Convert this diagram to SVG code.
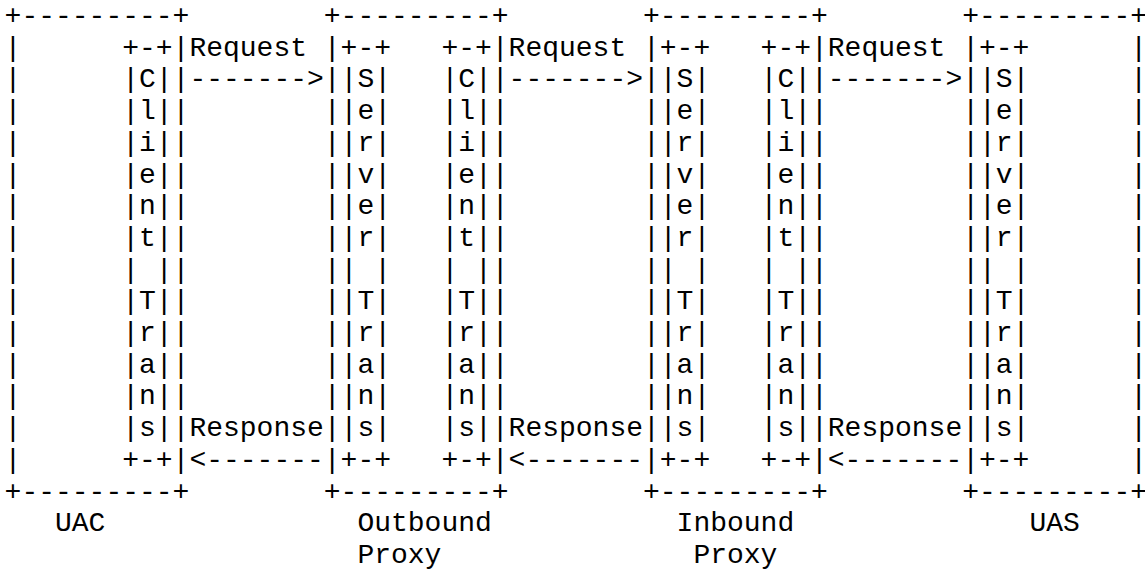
<svg xmlns="http://www.w3.org/2000/svg" width="1145" height="569" viewBox="0 0 1145 569" xml:space="preserve">
<style>
.t { font-family: "Liberation Mono", "Courier New", monospace; font-size: 28px; fill: #000; white-space: pre; }
</style>
<rect width="1145" height="569" fill="#fff"/>
<g id="uac">
<text class="t"><tspan x="4.6" y="24">+---------+</tspan><tspan x="4.6" y="55.7">|      +-+|</tspan><tspan x="4.6" y="87.4">|      |C||</tspan><tspan x="4.6" y="119.1">|      |l||</tspan><tspan x="4.6" y="150.8">|      |i||</tspan><tspan x="4.6" y="182.5">|      |e||</tspan><tspan x="4.6" y="214.2">|      |n||</tspan><tspan x="4.6" y="245.9">|      |t||</tspan><tspan x="4.6" y="277.6">|      | ||</tspan><tspan x="4.6" y="309.3">|      |T||</tspan><tspan x="4.6" y="341">|      |r||</tspan><tspan x="4.6" y="372.7">|      |a||</tspan><tspan x="4.6" y="404.4">|      |n||</tspan><tspan x="4.6" y="436.1">|      |s||</tspan><tspan x="4.6" y="467.8">|      +-+|</tspan><tspan x="4.6" y="499.5">+---------+</tspan></text>
<text class="t" x="55" y="531.2">UAC</text>
</g>
<g id="outbound-proxy">
<text class="t"><tspan x="323.8" y="24">+---------+</tspan><tspan x="323.8" y="55.7">|+-+   +-+|</tspan><tspan x="323.8" y="87.4">||S|   |C||</tspan><tspan x="323.8" y="119.1">||e|   |l||</tspan><tspan x="323.8" y="150.8">||r|   |i||</tspan><tspan x="323.8" y="182.5">||v|   |e||</tspan><tspan x="323.8" y="214.2">||e|   |n||</tspan><tspan x="323.8" y="245.9">||r|   |t||</tspan><tspan x="323.8" y="277.6">|| |   | ||</tspan><tspan x="323.8" y="309.3">||T|   |T||</tspan><tspan x="323.8" y="341">||r|   |r||</tspan><tspan x="323.8" y="372.7">||a|   |a||</tspan><tspan x="323.8" y="404.4">||n|   |n||</tspan><tspan x="323.8" y="436.1">||s|   |s||</tspan><tspan x="323.8" y="467.8">|+-+   +-+|</tspan><tspan x="323.8" y="499.5">+---------+</tspan></text>
<text class="t"><tspan x="357.4" y="531.2">Outbound</tspan><tspan x="357.4" y="562.9">Proxy</tspan></text>
</g>
<g id="inbound-proxy">
<text class="t"><tspan x="643" y="24">+---------+</tspan><tspan x="643" y="55.7">|+-+   +-+|</tspan><tspan x="643" y="87.4">||S|   |C||</tspan><tspan x="643" y="119.1">||e|   |l||</tspan><tspan x="643" y="150.8">||r|   |i||</tspan><tspan x="643" y="182.5">||v|   |e||</tspan><tspan x="643" y="214.2">||e|   |n||</tspan><tspan x="643" y="245.9">||r|   |t||</tspan><tspan x="643" y="277.6">|| |   | ||</tspan><tspan x="643" y="309.3">||T|   |T||</tspan><tspan x="643" y="341">||r|   |r||</tspan><tspan x="643" y="372.7">||a|   |a||</tspan><tspan x="643" y="404.4">||n|   |n||</tspan><tspan x="643" y="436.1">||s|   |s||</tspan><tspan x="643" y="467.8">|+-+   +-+|</tspan><tspan x="643" y="499.5">+---------+</tspan></text>
<text class="t"><tspan x="676.6" y="531.2">Inbound</tspan><tspan x="693.4" y="562.9">Proxy</tspan></text>
</g>
<g id="uas">
<text class="t"><tspan x="962.2" y="24">+---------+</tspan><tspan x="962.2" y="55.7">|+-+      |</tspan><tspan x="962.2" y="87.4">||S|      |</tspan><tspan x="962.2" y="119.1">||e|      |</tspan><tspan x="962.2" y="150.8">||r|      |</tspan><tspan x="962.2" y="182.5">||v|      |</tspan><tspan x="962.2" y="214.2">||e|      |</tspan><tspan x="962.2" y="245.9">||r|      |</tspan><tspan x="962.2" y="277.6">|| |      |</tspan><tspan x="962.2" y="309.3">||T|      |</tspan><tspan x="962.2" y="341">||r|      |</tspan><tspan x="962.2" y="372.7">||a|      |</tspan><tspan x="962.2" y="404.4">||n|      |</tspan><tspan x="962.2" y="436.1">||s|      |</tspan><tspan x="962.2" y="467.8">|+-+      |</tspan><tspan x="962.2" y="499.5">+---------+</tspan></text>
<text class="t" x="1029.4" y="531.2">UAS</text>
</g>
<g id="connectors">
<text class="t"><tspan x="189.4" y="55.7">Request</tspan><tspan x="189.4" y="87.4">-------&gt;</tspan><tspan x="189.4" y="436.1">Response</tspan><tspan x="189.4" y="467.8">&lt;-------</tspan></text>
<text class="t"><tspan x="508.6" y="55.7">Request</tspan><tspan x="508.6" y="87.4">-------&gt;</tspan><tspan x="508.6" y="436.1">Response</tspan><tspan x="508.6" y="467.8">&lt;-------</tspan></text>
<text class="t"><tspan x="827.8" y="55.7">Request</tspan><tspan x="827.8" y="87.4">-------&gt;</tspan><tspan x="827.8" y="436.1">Response</tspan><tspan x="827.8" y="467.8">&lt;-------</tspan></text>
</g>
</svg>
